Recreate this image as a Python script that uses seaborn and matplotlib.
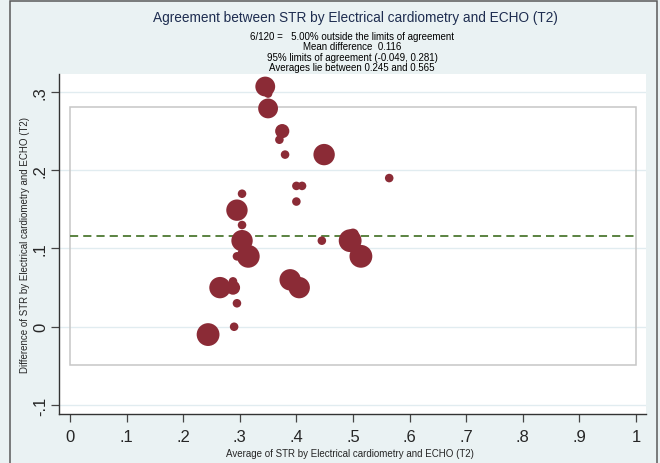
import matplotlib
matplotlib.use("Agg")
import matplotlib.pyplot as plt
import seaborn as sns
import pandas as pd
from matplotlib.patches import Rectangle

# Bland-Altman points (average, difference, number of coinciding observations)
avg = [0.345, 0.350, 0.350, 0.375, 0.370, 0.380, 0.449, 0.564, 0.400, 0.410,
       0.400, 0.304, 0.295, 0.304, 0.304, 0.315, 0.295, 0.265, 0.288, 0.288,
       0.295, 0.290, 0.244, 0.389, 0.405, 0.445, 0.495, 0.500, 0.514]
diff = [0.307, 0.298, 0.279, 0.250, 0.239, 0.220, 0.220, 0.190, 0.180, 0.180,
        0.160, 0.170, 0.149, 0.130, 0.110, 0.090, 0.090, 0.050, 0.050, 0.058,
        0.030, 0.000, -0.010, 0.060, 0.050, 0.110, 0.110, 0.118, 0.090]
count = [6, 1, 6, 3, 1, 1, 7, 1, 1, 1,
         1, 1, 7, 1, 7, 8, 1, 7, 3, 1,
         1, 1, 8, 7, 7, 1, 8, 2, 8]

mean_diff = 0.116
loa = (-0.049, 0.281)
avg_range = (0.0, 1.0)

x_ticks = [0, 0.1, 0.2, 0.3, 0.4, 0.5, 0.6, 0.7, 0.8, 0.9, 1]
x_ticklabels = ["0", ".1", ".2", ".3", ".4", ".5", ".6", ".7", ".8", ".9", "1"]
y_ticks = [-0.1, 0, 0.1, 0.2, 0.3]
y_ticklabels = ["-.1", "0", ".1", ".2", ".3"]

title = "Agreement between STR by Electrical cardiometry and ECHO (T2)"
subtitle = [
    "6/120 =   5.00% outside the limits of agreement",
    "Mean difference  0.116",
    "95% limits of agreement (-0.049, 0.281)",
    "Averages lie between 0.245 and 0.565",
]
xlabel = "Average of STR by Electrical cardiometry and ECHO (T2)"
ylabel = "Difference of STR by Electrical cardiometry and ECHO (T2)"

sns.set_style("white")
plt.rcParams["font.family"] = ["Liberation Sans", "DejaVu Sans"]

bg = "#eaf2f3"
fig = plt.figure(figsize=(6.6, 4.64), dpi=100, facecolor=bg)
ax = fig.add_axes([59 / 660, 1 - 415 / 464, 587 / 660, 340 / 464])
ax.set_facecolor("white")

# outer frame of the graph
fig.add_artist(Rectangle((10 / 660, -0.02), 647 / 660, 1 - 2 / 464 + 0.02,
                         transform=fig.transFigure, fill=False,
                         edgecolor="#5a5a5a", lw=1.1))

df = pd.DataFrame({"avg": avg, "diff": diff, "count": count})

ax.add_patch(Rectangle((avg_range[0], loa[0]), avg_range[1] - avg_range[0], loa[1] - loa[0],
                       fill=False, edgecolor="#c6c6c6", lw=1.1, zorder=1))
ax.plot(avg_range, [mean_diff, mean_diff], color="#5a8240", lw=1.4,
        dashes=(4.2, 2.6), zorder=2)

sns.scatterplot(data=df, x="avg", y="diff", size="count", sizes=(38, 270),
                size_norm=(1, 8), color="#8b2b36", linewidth=0, alpha=1,
                legend=False, ax=ax, zorder=3)

ax.set_xlim(-0.0194, 1.0177)
ax.set_ylim(-0.1115, 0.323)
ax.set_xticks(x_ticks)
ax.set_xticklabels(x_ticklabels, fontsize=12)
ax.set_yticks(y_ticks)
ax.set_yticklabels(y_ticklabels, fontsize=12, rotation=90, va="center")
ax.tick_params(axis="x", length=6, width=0.9, color="#444444", pad=5, bottom=True)
ax.tick_params(axis="y", length=6, width=0.9, color="#444444", pad=2, left=True)
ax.yaxis.grid(True, color="#e1ecf0", lw=1.0)
ax.xaxis.grid(False)
ax.set_axisbelow(True)

for side in ["top", "right"]:
    ax.spines[side].set_visible(False)
for side in ["left", "bottom"]:
    ax.spines[side].set_color("#333333")
    ax.spines[side].set_linewidth(1.0)

ax.set_xlabel(xlabel, fontsize=7)
ax.set_ylabel(ylabel, fontsize=7)
ax.xaxis.set_label_coords(0.496, -0.1)
ax.yaxis.set_label_coords(-0.050, 0.5)

fig.text(355 / 660, 1 - 18 / 464, title, ha="center", va="center",
         fontsize=9.8, color="#1e2d50")
for i, line in enumerate(subtitle):
    fig.text(352 / 660, 1 - (37 + 10.3 * i) / 464, line, ha="center", va="center",
             fontsize=7, color="black")

fig.savefig("out.png", dpi=100, facecolor=bg)
